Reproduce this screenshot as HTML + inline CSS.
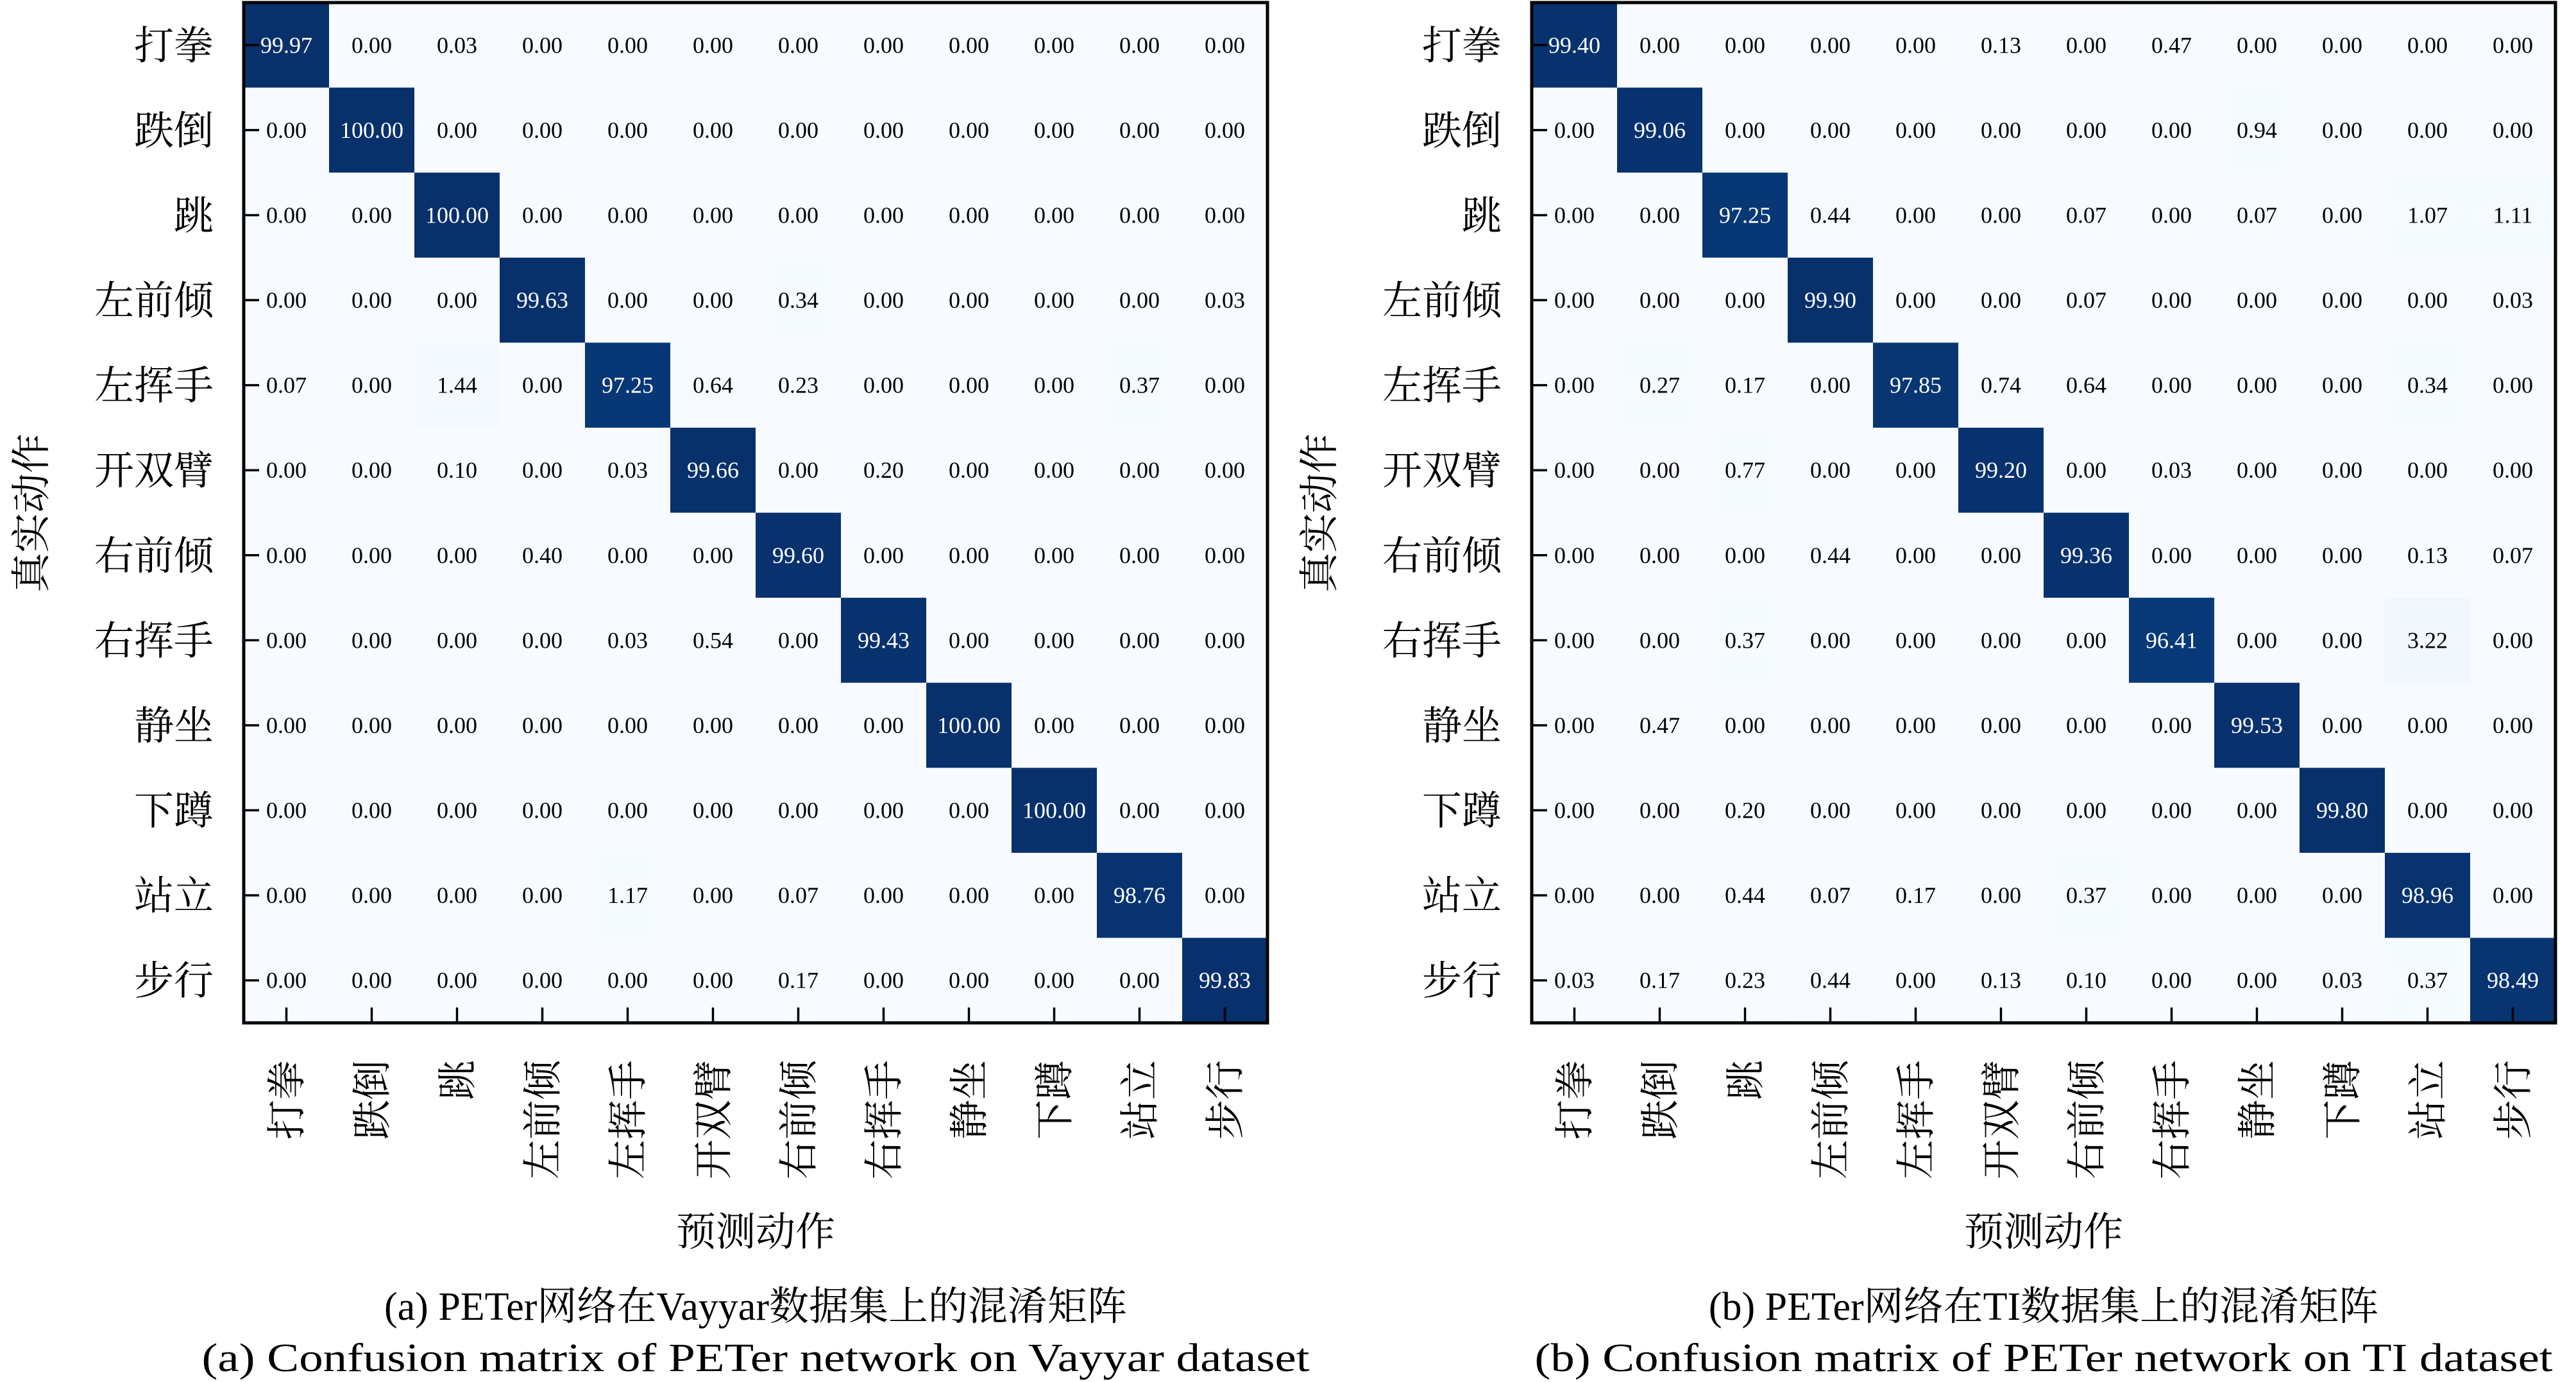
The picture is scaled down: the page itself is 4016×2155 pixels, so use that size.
<!DOCTYPE html>
<html><head><meta charset="utf-8"><style>
html,body{margin:0;padding:0;background:#fff;}
svg{display:block;}
text{font-family:"Liberation Serif","Noto Serif CJK SC",serif;}
</style></head><body>
<svg id="fig" xmlns="http://www.w3.org/2000/svg" width="4016" height="2155" viewBox="0 0 4016 2155">
<rect x="0" y="0" width="4016" height="2155" fill="#fff"/>
</svg>
<script>
const labels = ["打拳","跌倒","跳","左前倾","左挥手","开双臂","右前倾","右挥手","静坐","下蹲","站立","步行"];
const matA = [
[99.97,0,0.03,0,0,0,0,0,0,0,0,0],
[0,100,0,0,0,0,0,0,0,0,0,0],
[0,0,100,0,0,0,0,0,0,0,0,0],
[0,0,0,99.63,0,0,0.34,0,0,0,0,0.03],
[0.07,0,1.44,0,97.25,0.64,0.23,0,0,0,0.37,0],
[0,0,0.10,0,0.03,99.66,0,0.20,0,0,0,0],
[0,0,0,0.40,0,0,99.60,0,0,0,0,0],
[0,0,0,0,0.03,0.54,0,99.43,0,0,0,0],
[0,0,0,0,0,0,0,0,100,0,0,0],
[0,0,0,0,0,0,0,0,0,100,0,0],
[0,0,0,0,1.17,0,0.07,0,0,0,98.76,0],
[0,0,0,0,0,0,0.17,0,0,0,0,99.83]];
const matB = [
[99.40,0,0,0,0,0.13,0,0.47,0,0,0,0],
[0,99.06,0,0,0,0,0,0,0.94,0,0,0],
[0,0,97.25,0.44,0,0,0.07,0,0.07,0,1.07,1.11],
[0,0,0,99.90,0,0,0.07,0,0,0,0,0.03],
[0,0.27,0.17,0,97.85,0.74,0.64,0,0,0,0.34,0],
[0,0,0.77,0,0,99.20,0,0.03,0,0,0,0],
[0,0,0,0.44,0,0,99.36,0,0,0,0.13,0.07],
[0,0,0.37,0,0,0,0,96.41,0,0,3.22,0],
[0,0.47,0,0,0,0,0,0,99.53,0,0,0],
[0,0,0.20,0,0,0,0,0,0,99.80,0,0],
[0,0,0.44,0.07,0.17,0,0.37,0,0,0,98.96,0],
[0.03,0.17,0.23,0.44,0,0.13,0.10,0,0,0.03,0.37,98.49]];
const captionsCN = ["(a) PETer网络在Vayyar数据集上的混淆矩阵","(b) PETer网络在TI数据集上的混淆矩阵"];
const captionsEN = ["(a) Confusion matrix of PETer network on Vayyar dataset","(b) Confusion matrix of PETer network on TI dataset"];

const NS="http://www.w3.org/2000/svg";
const svg=document.getElementById('fig');
const stops=[[247,251,255],[222,235,247],[198,219,239],[158,202,225],[107,174,214],[66,146,198],[33,113,181],[8,81,156],[8,48,107]];
function blues(t){t=Math.max(0,Math.min(1,t));const p=t*(stops.length-1);const i=Math.min(stops.length-2,Math.floor(p));const f=p-i;
const c=stops[i].map((v,k)=>Math.round(v+(stops[i+1][k]-v)*f));return `rgb(${c[0]},${c[1]},${c[2]})`;}
function mk(tag,attrs,parent){const e=document.createElementNS(NS,tag);for(const k in attrs)e.setAttribute(k,attrs[k]);(parent||svg).appendChild(e);return e;}

function panel(mat,x0,idx){
  const y0=4,W=1596,H=1591,n=labels.length,cw=W/n,ch=H/n;
  const xs=i=>x0+i*cw, ys=i=>y0+i*ch;
  const g=mk('g',{});
  
  
  for(let r=0;r<n;r++)for(let c=0;c<n;c++){
    const v=mat[r][c];
    const rect=mk('rect',{x:xs(c),y:ys(r),width:cw+0.6,height:ch+0.6,fill:blues(v/100)},g);
    
    
    const t=mk('text',{x:xs(c)+cw/2,y:ys(r)+ch/2+12,'text-anchor':'middle','font-size':36,fill:v>50?'#fff':'#000'},g);
    
    
    t.textContent=v.toFixed(2);
  }
  for(let i=0;i<n;i++){
    mk('line',{x1:x0,x2:x0+24,y1:ys(i)+ch/2,y2:ys(i)+ch/2,stroke:'#000','stroke-width':3.5},g);
    mk('line',{x1:xs(i)+cw/2,x2:xs(i)+cw/2,y1:y0+H,y2:y0+H-24,stroke:'#000','stroke-width':3.5},g);
    const yl=mk('text',{x:x0-47,y:ys(i)+ch/2+22,'text-anchor':'end','font-size':62,fill:'#000'},g);
    
    
    yl.textContent=labels[i];
    const xl=mk('text',{x:0,y:0,'text-anchor':'end','font-size':62,fill:'#000',transform:`translate(${xs(i)+cw/2+22},1653) rotate(-90)`},g);
    
    
    xl.textContent=labels[i];
  }
  const fr=mk('rect',{x:x0,y:y0,width:W,height:H,fill:'none',stroke:'#000','stroke-width':5},g);
  
  
  const yt=mk('text',{x:0,y:0,'text-anchor':'middle','font-size':62,fill:'#000',transform:`translate(${x0-310},800) rotate(-90)`},g);
  
  
  yt.textContent='真实动作';
  const cx=x0+W/2;
  const xt=mk('text',{x:cx,y:1942,'text-anchor':'middle','font-size':62,fill:'#000'},g);
  
  
  xt.textContent='预测动作';
  const c1=mk('text',{x:cx,y:2058,'text-anchor':'middle','font-size':62,fill:'#000'},g);
  
  
  c1.textContent=captionsCN[idx];
  const c2=mk('text',{x:cx,y:2138,'text-anchor':'middle','font-size':62,fill:'#000',textLength:idx===0?1727:1587,lengthAdjust:'spacingAndGlyphs'},g);
  
  
  c2.textContent=captionsEN[idx];
}
panel(matA,380,0);
panel(matB,2388,1);
</script>
</body></html>
